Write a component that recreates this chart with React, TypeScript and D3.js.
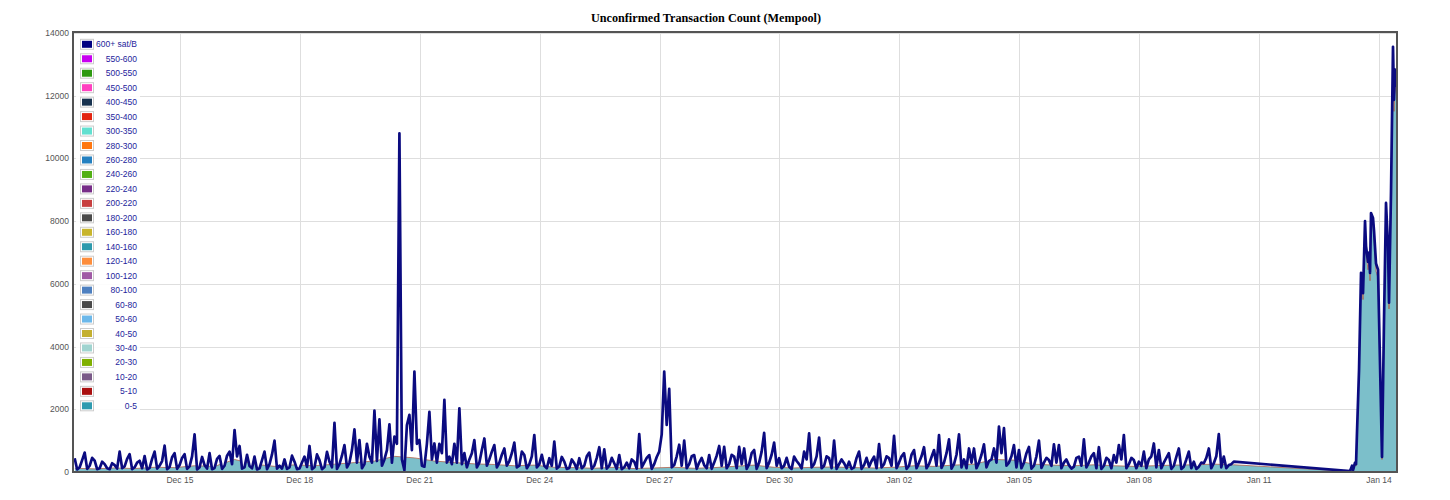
import { area, line, scaleLinear, scaleUtc, utcDay, utcFormat } from "d3";

const HOUR = 3600 * 1000;

// main stretch: one reading every 1.5 hours from Dec 12 08:48
const startA = Date.UTC(2017, 11, 12, 8, 48);
const stepA = 1.5;
const countA = [
  // Dec 12 - Dec 18
  440, 80, 150, 380, 620, 100, 200, 450, 360, 90,
  120, 330, 250, 120, 90, 280, 220, 110, 650, 120,
  180, 420, 570, 90, 150, 300, 360, 120, 510, 80,
  130, 420, 650, 110, 200, 350, 840, 90, 160, 470,
  600, 100, 220, 450, 570, 100, 180, 500, 1200, 80,
  150, 480, 220, 110, 600, 90, 130, 420, 510, 100,
  200, 520, 650, 250, 1340, 500, 830, 110, 150, 550,
  190, 120, 490, 80, 120, 380, 650, 90, 250, 560,
  1000, 110, 200, 110, 400, 100, 150, 520, 330, 90,
  110, 300, 490, 160, 830, 90, 150, 560, 380, 90,
  160, 640, 330, 150, 1570,
  // Dec 18 - Dec 25
  100,
  250, 520, 860, 150, 300, 700, 1360, 300, 1020, 120,
  250, 900, 490, 300, 1960, 350, 1680, 200, 400, 700,
  1520, 300, 1130, 900, 10800, 400, 60, 1500, 1820, 700,
  3200, 900, 1020, 200, 170, 900, 1920, 400, 910, 300,
  900, 600, 2300, 300, 490, 250, 900, 300, 2030, 250,
  600, 150, 400, 600, 1020, 150, 300, 700, 1070, 200,
  400, 650, 860, 150, 300, 550, 750, 200, 350, 600,
  940, 150, 200, 650, 540, 120, 250, 500, 1180, 150,
  250, 550, 200, 120, 440, 200, 970, 110, 180, 480,
  330, 100, 130, 400, 280, 100, 440, 120, 200, 500,
  620, 100, 200, 450, 790,
  // Dec 25 - Jan 01
  120,
  720, 110, 200, 450, 280, 100, 540, 90, 150, 300,
  120, 400, 330, 110, 1210, 150, 300, 450, 540, 100,
  250, 480, 650, 1200, 3200, 1500, 2650, 150, 220, 500,
  870, 200, 1000, 120, 250, 500, 540, 100, 300, 450,
  220, 120, 540, 100, 300, 520, 830, 200, 800, 120,
  250, 550, 490, 120, 800, 250, 750, 100, 250, 600,
  700, 100, 300, 650, 1250, 120, 300, 550, 940, 200,
  440, 120, 200, 450, 170, 100, 490, 350, 250, 120,
  650, 400, 1230, 150, 250, 500, 1100, 120, 200, 500,
  440, 120, 1000, 100, 250, 400, 280, 120, 330, 100,
  150, 450, 650, 100, 220,
  // Jan 01 - Jan 08
  450,
  170, 350, 490, 120, 890, 150, 250, 500, 440, 200,
  1150, 120, 300, 500, 600, 100, 200, 550, 700, 120,
  300, 500, 790, 120, 250, 480, 700, 200, 1180, 130,
  300, 600, 1040, 110, 250, 550, 1200, 150, 400, 120,
  750, 300, 750, 120, 300, 550, 880, 150, 350, 400,
  750, 300, 1450, 600, 1400, 200, 300, 500, 860, 150,
  700, 120, 300, 600, 800, 110, 200, 500, 1000, 130,
  300, 450, 380, 200, 880, 300, 860, 120, 300, 400,
  220, 110, 170, 450, 490, 200, 1040, 150, 300, 500,
  600, 120, 790, 100, 200, 450, 380, 120, 540, 300,
  860, 400, 1180, 120, 250, 450, 380,
  // Jan 08 - Jan 10
  120,
  330, 200, 650, 120, 400, 500, 910, 150, 700, 120,
  300, 450, 600, 100, 200, 480, 750, 100, 170, 400,
  650, 120, 330, 100, 170, 300, 280, 450, 750, 120,
  280, 500, 1210, 150, 490, 120, 220, 250, 330,
];

// 0-5 sat/B layer, read every 12 hours over the same stretch
const lowStep = 12;
const lowA = [
  120, 100, 130, 110, 150, 140, 200, 180, 400, 250,
  180, 230, 200, 250, 300, 350, 500, 450, 350, 300,
  260, 240, 200, 220, 150, 140, 120, 150, 110, 130,
  150, 120, 140, 180, 220, 150, 130, 150, 160, 140,
  130, 150, 200, 180, 220, 250, 400, 380, 250, 220,
  200, 230, 200, 180, 200, 220, 230, 250, 230,
];

// after the gap in the data: hours after Jan 13 00:00
const tailStart = Date.UTC(2018, 0, 13);
const tailHours = [
  6.6, 7.8, 8.4, 9.6, 10.2, 10.8, 12, 13.2, 13.8, 14.4,
  15.6, 16.2, 17.4, 18, 18.6, 19.2, 20.4, 21, 22.2, 23.4,
  25.8, 27, 28.2, 29.4, 30, 31.2, 32.4, 33, 33.6, 34.8,
];
const tailCount = [
  30, 200, 60, 300, 250, 1300, 3250, 6350, 6200, 5700,
  8000, 7200, 6700, 7000, 6350, 8260, 8100, 7700, 6650, 6450,
  480, 4850, 8580, 7200, 5400, 8900, 13560, 11870, 12830, 12280,
];
const tailLow = [
  20, 150, 40, 230, 190, 1200, 3100, 6150, 6000, 5500,
  7750, 6950, 6450, 6750, 6100, 8000, 7850, 7450, 6400, 6200,
  400, 4650, 8300, 6950, 5200, 8600, 13200, 11500, 12450, 11900,
];

const legendLabels = [
  "600+ sat/B", "550-600", "500-550", "450-500", "400-450", "350-400",
  "300-350", "280-300", "260-280", "240-260", "220-240", "200-220",
  "180-200", "160-180", "140-160", "120-140", "100-120", "80-100",
  "60-80", "50-60", "40-50", "30-40", "20-30", "10-20", "5-10", "0-5",
];
const legendColors = [
  "#000080", "#c800f0", "#2e9a10", "#ff40c0", "#17324f", "#e32511",
  "#62e0d0", "#ff7710", "#2480c0", "#52b014", "#772d88", "#c84040",
  "#4a4a4a", "#c8b52c", "#2e9aad", "#fd8d3c", "#a05aa5", "#4e80c0",
  "#4a4a4a", "#6cb8ea", "#c4b030", "#a0d4d0", "#7fb000", "#7a5a88",
  "#aa1010", "#2e9bb0",
];

const yTicks = [0, 2000, 4000, 6000, 8000, 10000, 12000, 14000];
const xStart = Date.UTC(2017, 11, 12, 7, 48);
const xEnd = Date.UTC(2018, 0, 14, 10, 48);

type Pt = { t: number; v: number };

const totalPts: Pt[] = [
  ...countA.map((v, i) => ({ t: startA + i * stepA * HOUR, v })),
  ...tailCount.map((v, i) => ({ t: tailStart + tailHours[i] * HOUR, v })),
];
const lowPts: Pt[] = [
  ...lowA.map((v, i) => ({ t: startA + i * lowStep * HOUR, v })),
  ...tailLow.map((v, i) => ({ t: tailStart + tailHours[i] * HOUR, v })),
];

export default function App() {
  const width = 1450;
  const height = 500;
  const left = 73;
  const right = 1397;
  const top = 33;
  const bottom = 472;
  const sans = "'Liberation Sans', Arial, sans-serif";

  const x = scaleUtc().domain([xStart, xEnd]).range([left, right]);
  const y = scaleLinear().domain([0, 14000]).range([bottom, top]);

  const xTicks = utcDay.range(Date.UTC(2017, 11, 15), Date.UTC(2018, 0, 15), 3);
  const fmt = utcFormat("%b %d");

  const totalArea = area<Pt>()
    .x((d) => x(d.t))
    .y0(bottom)
    .y1((d) => y(d.v));
  const lowArea = area<Pt>()
    .x((d) => x(d.t))
    .y0(bottom)
    .y1((d) => y(d.v));
  const lineGen = line<Pt>()
    .x((d) => x(d.t))
    .y((d) => y(d.v));

  const rowGap = 14.46;

  return (
    <div style={{ position: "absolute", left: 0, top: 0 }}>
      <svg width={width} height={height} style={{ display: "block", background: "#fff" }}>
        <defs>
          <clipPath id="plot">
            <rect x={left} y={top - 2} width={right - left} height={bottom - top + 2} />
          </clipPath>
          <clipPath id="under-total">
            <path d={totalArea(totalPts) || ""} />
          </clipPath>
        </defs>

        <text
          x={706}
          y={22}
          textAnchor="middle"
          fontFamily="'Liberation Serif', 'Times New Roman', serif"
          fontWeight="bold"
          fontSize={12.2}
          fill="#000"
        >
          Unconfirmed Transaction Count (Mempool)
        </text>

        {/* grid */}
        <g stroke="#dedede" strokeWidth={1}>
          {yTicks.map((t) => (
            <line key={"gy" + t} x1={left} x2={right} y1={Math.round(y(t)) + 0.5} y2={Math.round(y(t)) + 0.5} />
          ))}
          {xTicks.map((t) => (
            <line key={"gx" + +t} x1={Math.round(x(t)) + 0.5} x2={Math.round(x(t)) + 0.5} y1={top} y2={bottom} />
          ))}
        </g>

        <g clipPath="url(#plot)">
          <g clipPath="url(#under-total)">
            <path d={lowArea(lowPts) || ""} fill="#7cbfca" stroke="none" />
            <path d={lineGen(lowPts) || ""} fill="none" stroke="#b0553a" strokeWidth={0.9} strokeOpacity={0.8} />
          </g>
          <path
            d={lineGen(totalPts) || ""}
            fill="none"
            stroke="#0b0b80"
            strokeWidth={2.7}
            strokeLinejoin="round"
          />
        </g>

        {/* border */}
        <rect x={left} y={top - 1} width={right - left} height={bottom - top + 1} fill="none" stroke="#545454" strokeWidth={2} />

        {/* axis labels */}
        <g fontFamily={sans} fontSize={8.5} fill="#545454">
          {yTicks.map((t) => (
            <text key={"ly" + t} x={69} y={y(t) + 3} textAnchor="end">
              {t}
            </text>
          ))}
          {xTicks.map((t) => (
            <text key={"lx" + +t} x={x(t)} y={483} textAnchor="middle">
              {fmt(t)}
            </text>
          ))}
        </g>

        {/* legend */}
        <rect x={76} y={37} width={64} height={375} fill="#fff" fillOpacity={0.9} />
        <g fontFamily={sans} fontSize={8.5}>
          {legendLabels.map((label, i) => {
            const cy = 44.3 + i * rowGap;
            return (
              <g key={label}>
                <rect x={80.5} y={cy - 5} width={13} height={10} fill="#fff" stroke="#cccccc" strokeWidth={1} />
                <rect x={82} y={cy - 3.5} width={10} height={7} fill={legendColors[i]} />
                <text x={137} y={cy + 3} textAnchor="end" fill="#24249c">
                  {label}
                </text>
              </g>
            );
          })}
        </g>
      </svg>
    </div>
  );
}
